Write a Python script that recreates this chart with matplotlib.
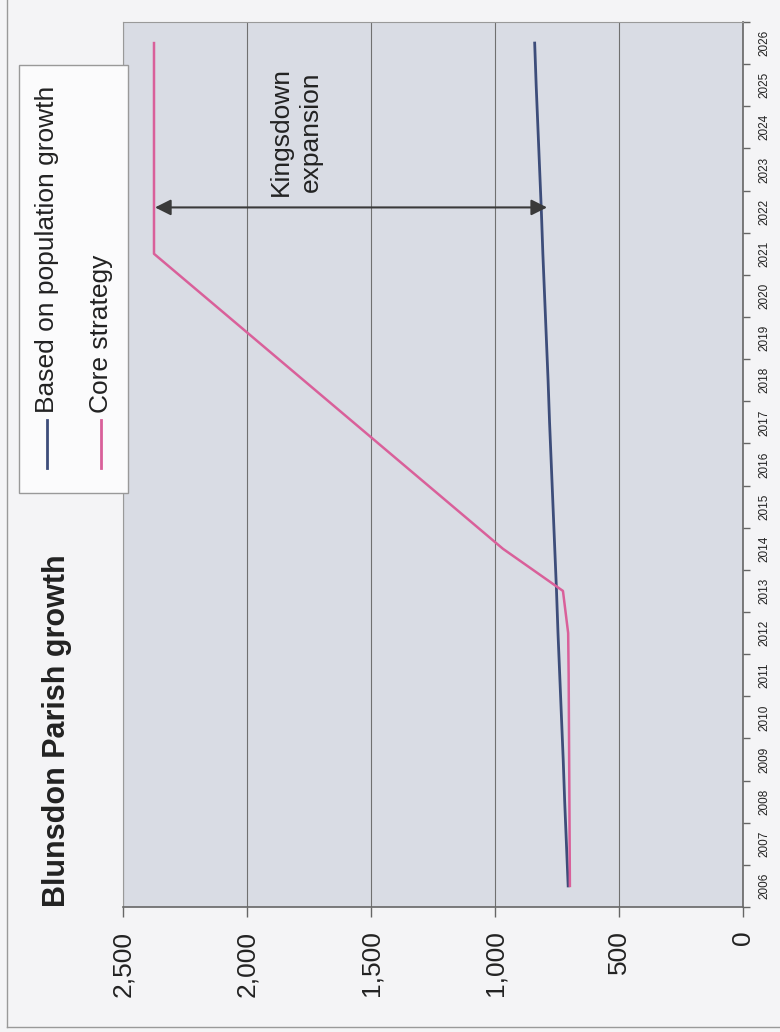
import numpy as np
import matplotlib
matplotlib.use("Agg")
import matplotlib.pyplot as plt
from matplotlib.lines import Line2D
from matplotlib.patches import Rectangle

plt.rcParams['font.family'] = ['Liberation Sans', 'DejaVu Sans']

# data (the scanned chart is turned 90 degrees, so values run along x)
years = [str(y) for y in range(2006, 2027)]
population_growth = [705, 712, 719, 725, 732, 739, 746, 752, 759, 766, 773,
                     780, 786, 793, 800, 807, 813, 820, 827, 834, 840]
core_strategy = [698, 699, 700, 701, 702, 703, 705, 726, 968, 1169, 1370,
                 1571, 1772, 1973, 2174, 2375, 2375, 2375, 2375, 2375, 2375]
value_ticks = [0, 500, 1000, 1500, 2000, 2500]

BLUE = '#3d4d7a'
PINK = '#d9609a'
W, H = 780.0, 1032.0


def fx(px):
    return px / W


def fy(py):
    return 1 - py / H


fig = plt.figure(figsize=(7.8, 10.32), dpi=100)
fig.patch.set_facecolor('#f4f4f6')

ax = fig.add_axes([fx(123), fy(907), fx(743) - fx(123), fy(22) - fy(907)])
ax.set_facecolor('#d9dce4')

idx = np.arange(len(years))
ax.plot(population_growth, idx, color=BLUE, lw=2, zorder=3)
ax.plot(core_strategy, idx, color=PINK, lw=1.8, zorder=3)

ax.set_xlim(2500, 0)
ax.set_ylim(-0.5, len(years) - 0.5)

ax.set_xticks(value_ticks)
ax.set_xticklabels(['{:,}'.format(v) for v in value_ticks], rotation=90,
                   va='top', fontsize=19, color='#222222')
ax.tick_params(axis='x', length=7, width=1, color='#666666', pad=10)
ax.grid(axis='x', color='#707070', lw=0.8, zorder=1)

ax.yaxis.tick_right()
ax.set_yticks(np.arange(-0.5, len(years), 1))
ax.set_yticklabels([])
ax.set_yticks(idx, minor=True)
ax.set_yticklabels(years, minor=True, rotation=90, fontsize=8.5,
                   color='#222222', va='center')
ax.tick_params(axis='y', which='major', length=5, width=1, color='#666666')
ax.tick_params(axis='y', which='minor', length=0, pad=11)

for side in ['top', 'left']:
    ax.spines[side].set_color('#999999')
for side in ['right', 'bottom']:
    ax.spines[side].set_color('#666666')
    ax.spines[side].set_linewidth(1.2)

# annotation
ax.annotate('', xy=(2371, 16.1), xytext=(790, 16.1),
            arrowprops=dict(arrowstyle='<|-|>', color='#3a3a3a', lw=1.5,
                            mutation_scale=24, shrinkA=0, shrinkB=0),
            zorder=4)
ax.text(1802, 17.9, 'Kingsdown\nexpansion', rotation=90, ha='center',
        va='center', fontsize=19, linespacing=1.3, color='#222222')

# title
fig.text(fx(57), fy(731), 'Blunsdon Parish growth', rotation=90,
         ha='center', va='center', fontsize=22, fontweight='bold',
         color='#222222')

# legend drawn by hand because the text is turned
fig.add_artist(Rectangle((fx(19), fy(493)), fx(128) - fx(19),
                         fy(65) - fy(493), transform=fig.transFigure,
                         facecolor='#fbfbfc', edgecolor='#999999', lw=1))
for xc, col, label in [(47, BLUE, 'Based on population growth'),
                       (101, PINK, 'Core strategy')]:
    fig.add_artist(Line2D([fx(xc), fx(xc)], [fy(420), fy(468)],
                          transform=fig.transFigure, color=col, lw=2))
    fig.text(fx(xc), fy(413), label, rotation=90, ha='center', va='bottom',
             fontsize=19, color='#222222')

# page edge of the scan
fig.add_artist(Line2D([fx(7), fx(7)], [fy(1027), 1],
                      transform=fig.transFigure, color='#999999', lw=1))
fig.add_artist(Line2D([fx(7), 1], [fy(1027), fy(1027)],
                      transform=fig.transFigure, color='#999999', lw=1))

fig.savefig('out.png', dpi=100, facecolor=fig.get_facecolor())
